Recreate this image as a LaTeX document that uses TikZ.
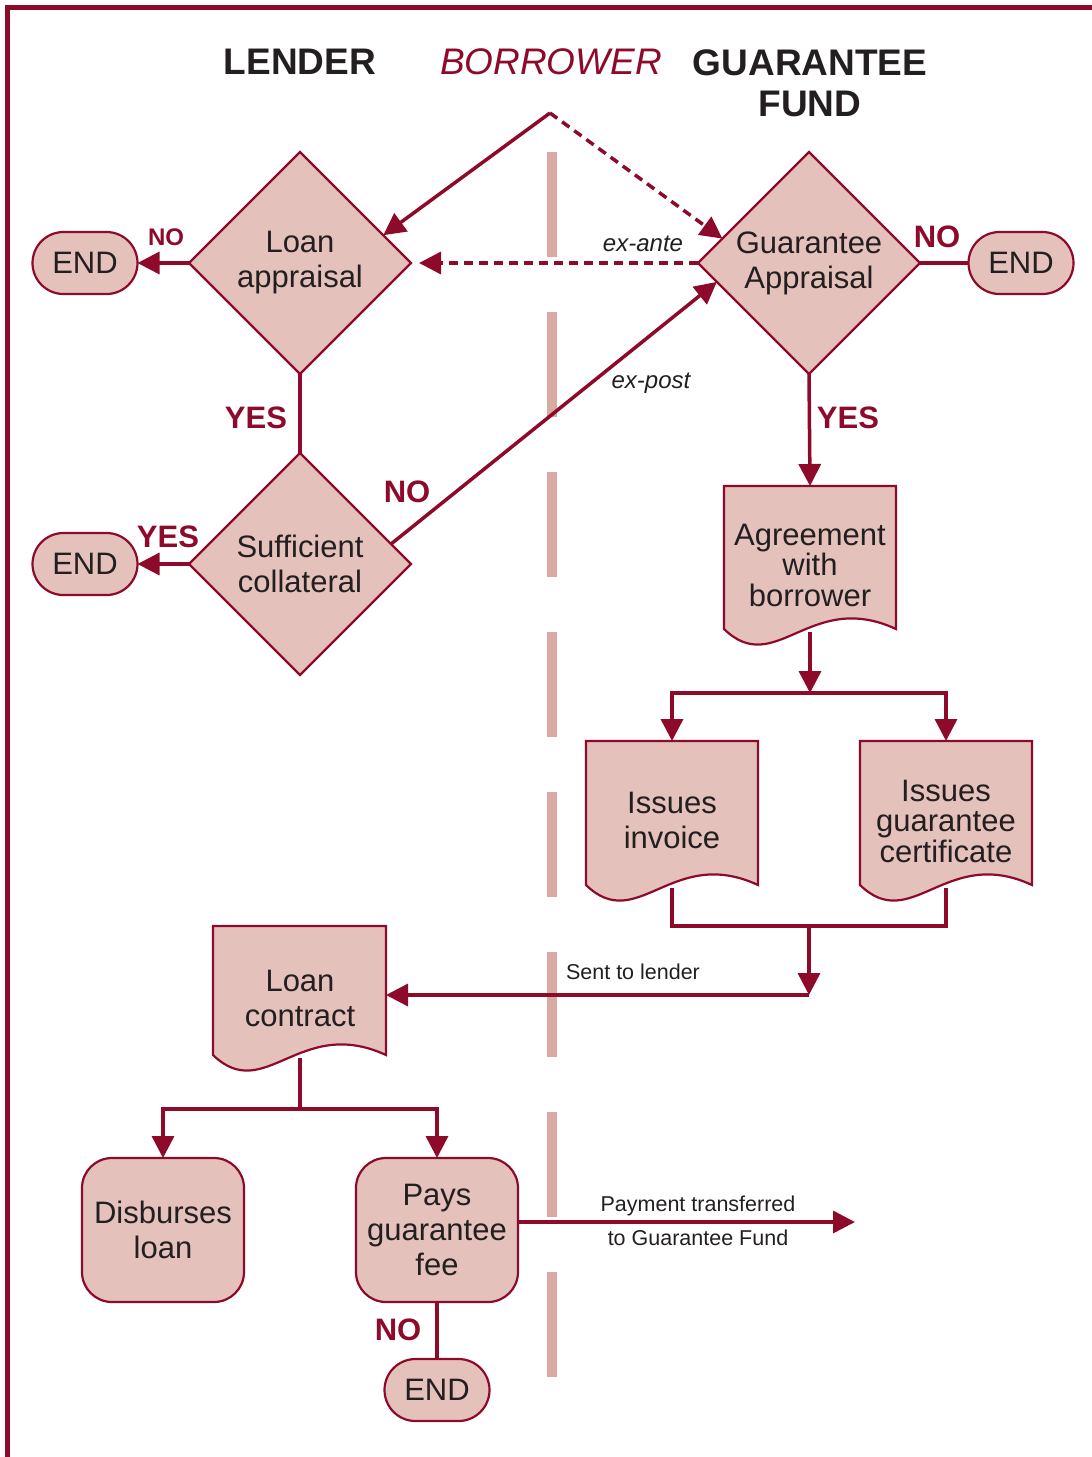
\documentclass[tikz,border=0pt]{standalone}
\usepackage{fontspec}
\setmainfont{Liberation Sans}
\usetikzlibrary{shapes.geometric,arrows.meta,calc}
\definecolor{wine}{HTML}{8E0A2B}
\definecolor{blush}{HTML}{E4C1BA}
\definecolor{lane}{HTML}{D9A9A4}
\definecolor{ink}{HTML}{231F20}

% document symbol: left x, top y, right x, y where the wavy edge meets the sides
\newcommand{\docsymbol}[4]{%
  \filldraw[docshape] (#1,#2) -- (#3,#2) -- (#3,#4)
    .. controls ({#3-0.5*(#3-#1)},{#4-40}) and ({#3-0.7*(#3-#1)},{#4+50}) .. (#1,#4) -- cycle;}

\begin{document}
\begin{tikzpicture}[x=1pt,y=-1pt,
  every node/.style={inner sep=0pt,outer sep=0pt,text=ink,align=center},
  body/.style={font=\fontsize{31}{35}\selectfont},
  tightbody/.style={font=\fontsize{31}{30.5}\selectfont},
  decision/.style={diamond,aspect=1,draw=wine,fill=blush,line width=2.2pt,
    minimum width=222pt,minimum height=222pt,body},
  terminal/.style={rectangle,rounded corners=31pt,draw=wine,fill=blush,line width=2.2pt,
    minimum width=105pt,minimum height=62pt,body},
  process/.style={rectangle,rounded corners=30pt,draw=wine,fill=blush,line width=2.2pt,
    minimum width=162pt,minimum height=144pt,body},
  docshape/.style={draw=wine,fill=blush,line width=2.2pt},
  conn/.style={draw=wine,line width=3.5pt},
  dashline/.style={dash pattern=on 9pt off 6pt},
  tip/.style={-{Triangle[length=22pt,width=22pt]}},
  flag/.style={text=wine,font=\bfseries\fontsize{31}{31}\selectfont},
  smallflag/.style={text=wine,font=\bfseries\fontsize{24}{24}\selectfont},
  head/.style={font=\bfseries\fontsize{37}{41}\selectfont},
  note/.style={font=\itshape\fontsize{24}{24}\selectfont},
  caption/.style={font=\fontsize{21.5}{34}\selectfont}
]
\useasboundingbox (0,0) rectangle (1092,1457);

% frame
\draw[wine,line width=5pt,line join=miter] (7,1457) -- (7,7) -- (1092,7);

% lane separator
\draw[lane,line width=10pt,dash pattern=on 105pt off 55pt] (552,152) -- (552,1377);

% column headings
\node[head] (hlender) at (300,62) {LENDER};
\node[font=\itshape\fontsize{37}{41}\selectfont,text=wine] (hborrower) at (551,62) {BORROWER};
\node[head] (hfund) at (810,83) {GUARANTEE\\FUND};

% decisions
\node[decision] (la) at (300,263) {Loan\\appraisal};
\node[decision] (sc) at (300,564) {Sufficient\\collateral};
\node[decision] (ga) at (809,263) {Guarantee\\Appraisal};

% terminals
\node[terminal] (end1) at (85,263) {END};
\node[terminal] (end2) at (85,564) {END};
\node[terminal] (end3) at (1021,263) {END};
\node[terminal] (end4) at (437,1390) {END};

% documents
\docsymbol{724}{486}{896}{629}
\node[tightbody] (agree) at (810,565) {Agreement\\with\\borrower};
\docsymbol{586}{741}{758}{885}
\node[body] (inv) at (672,820) {Issues\\invoice};
\docsymbol{860}{741}{1032}{885}
\node[tightbody] (cert) at (946,821) {Issues\\guarantee\\certificate};
\docsymbol{213}{926}{386}{1055}
\node[body] (contract) at (300,998) {Loan\\contract};

% processes
\node[process] (disb) at (163,1230) {Disburses\\loan};
\node[process] (pays) at (437,1230) {Pays\\guarantee\\fee};

% connection points
\coordinate (bor) at (550,113);
\coordinate (agreeN) at (810,486);
\coordinate (agreeS) at (810,632);
\coordinate (split) at (810,693);
\coordinate (invN) at (672,741);
\coordinate (invS) at (672,888);
\coordinate (certN) at (946,741);
\coordinate (certS) at (946,888);
\coordinate (joint) at (809,926);
\coordinate (sent) at (809,995);
\coordinate (contractE) at (386,995);
\coordinate (contractS) at (300,1058);
\coordinate (fork) at (300,1109);
\coordinate (payout) at (855,1222);

% connectors
\draw[conn,tip] (bor) -- ($(la.north)!0.75!(la.east)$);
\draw[conn,dashline,tip] (bor) -- ($(ga.north)!0.78!(ga.west)$);
\draw[conn,dashline,tip,shorten >=8pt] (ga.west) -- (la.east);
\draw[conn,tip] ($(sc.east)!0.18!(sc.north)$) -- ($(ga.west)!0.17!(ga.south)$);
\draw[conn,tip] (la.west) -- (end1.east);
\draw[conn] (la.south) -- (sc.north);
\draw[conn,tip] (sc.west) -- (end2.east);
\draw[conn,tip] (ga.south) -- (agreeN);
\draw[conn] (ga.east) -- (end3.west);
\draw[conn,tip] (agreeS) -- (split);
\draw[conn,tip] (split) -| (invN);
\draw[conn,tip] (split) -| (certN);
\draw[conn] (invS) |- (joint) -| (certS);
\draw[conn,tip] (joint) -- (sent);
\draw[conn,tip] (sent) -- (contractE);
\draw[conn] (contractS) -- (fork);
\draw[conn,tip] (fork) -| (disb.north);
\draw[conn,tip] (fork) -| (pays.north);
\draw[conn,tip] ([yshift=8pt]pays.east) -- (payout);
\draw[conn] (pays.south) -- (end4.north);

% branch labels
\node[smallflag] (noA) at (166,237) {NO};
\node[flag] (yesA) at (256,418) {YES};
\node[flag] (yesB) at (168,537) {YES};
\node[flag] (noB) at (407,492) {NO};
\node[flag] (noC) at (937,237) {NO};
\node[flag] (yesC) at (848,418) {YES};
\node[flag] (noD) at (398,1330) {NO};
\node[note] (exante) at (643,244) {ex-ante};
\node[note] (expost) at (651,383) {ex-post};
\node[caption] (sentlbl) at (633,972) {Sent to lender};
\node[caption] (paylbl) at (698,1221) {Payment transferred\\to Guarantee Fund};
\end{tikzpicture}
\end{document}
